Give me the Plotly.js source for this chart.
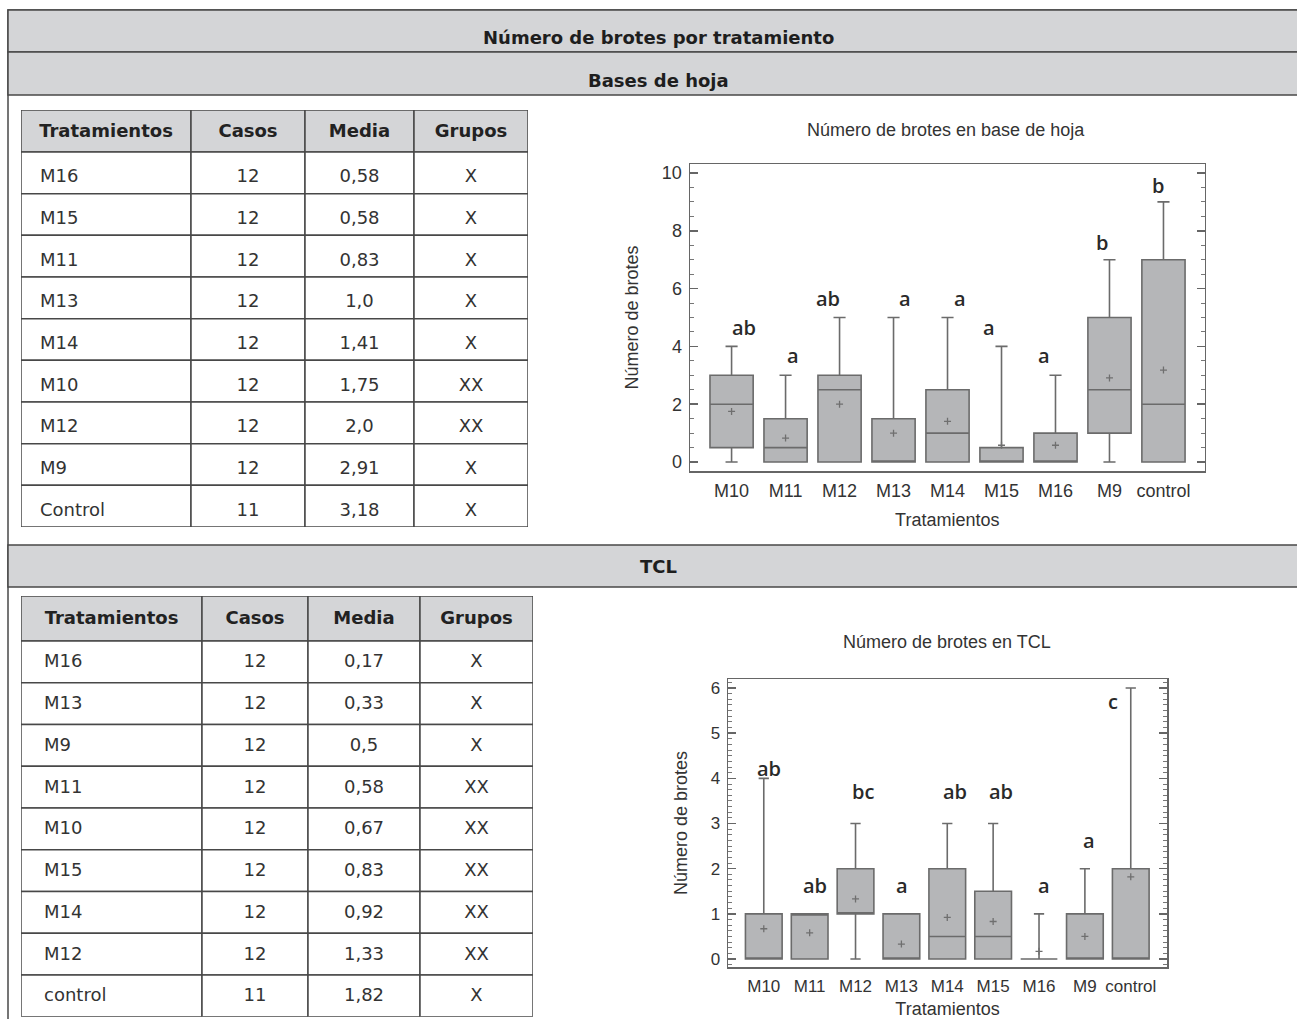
<!DOCTYPE html>
<html>
<head>
<meta charset="utf-8">
<script src="https://cdn.plot.ly/plotly-3.0.1.min.js"></script>
<style>
html,body{margin:0;padding:0;background:#fff;}
#chart{width:1297px;height:1019px;}
</style>
</head>
<body>
<div id="chart"></div>
<script>
// ---------------- DATA ----------------
const treatmentsHoja = ['M16','M15','M11','M13','M14','M10','M12','M9','Control'];
const casosHoja      = [12,12,12,12,12,12,12,12,11];
const mediaHoja      = ['0,58','0,58','0,83','1,0','1,41','1,75','2,0','2,91','3,18'];
const gruposHoja     = ['X','X','X','X','X','XX','XX','X','X'];

const treatmentsTCL = ['M16','M13','M9','M11','M10','M15','M14','M12','control'];
const casosTCL      = [12,12,12,12,12,12,12,12,11];
const mediaTCL      = ['0,17','0,33','0,5','0,58','0,67','0,83','0,92','1,33','1,82'];
const gruposTCL     = ['X','X','X','XX','XX','XX','XX','XX','X'];

const tableHeader = ['Tratamientos','Casos','Media','Grupos'];

const boxCategories = ['M10','M11','M12','M13','M14','M15','M16','M9','control'];

// Bases de hoja box statistics
const hojaLower  = [0,0,0,0,0,0,0,0,0];
const hojaQ1     = [0.5,0,0,0,0,0,0,1,0];
const hojaMedian = [2,0.5,2.5,0,1,0,0,2.5,2];
const hojaQ3     = [3,1.5,3,1.5,2.5,0.5,1,5,7];
const hojaUpper  = [4,3,5,5,5,4,3,7,9];
const hojaMean   = [1.75,0.83,2.0,1.0,1.41,0.58,0.58,2.91,3.18];
const hojaLetters = ['ab','a','ab','a','a','a','a','b','b'];
const hojaLetterY = [4.67,3.7,5.67,5.67,5.67,4.67,3.7,7.6,9.55];

// TCL box statistics
const tclLower  = [0,0,0,0,0,0,0,0,0];
const tclQ1     = [0,0,1,0,0,0,0,0,0];
const tclMedian = [0,1,1,0,0.5,0.5,0,0,0];
const tclQ3     = [1,1,2,1,2,1.5,0,1,2];
const tclUpper  = [4,1,3,1,3,3,1,2,6];
const tclMean   = [0.67,0.58,1.33,0.33,0.92,0.83,0.17,0.5,1.82];
const tclLetters = ['ab','ab','bc','a','ab','ab','a','a','c'];
const tclLetterY = [4.21,1.62,3.70,1.62,3.70,3.70,1.62,2.63,5.71];

// ---------------- LAYOUT / STYLE ----------------
const W = 1297, H = 1019;
const fx = px => px / W;
const fy = py => 1 - py / H;
const idx = boxCategories.map((_, i) => i);

const GRAY = '#d4d5d7';
const LINE = '#484848';
const BOXFILL = '#b5b6b8';
const BOXLINE = '#6b6b6b';
const TABLEFONT = '"DejaVu Sans", "Open Sans", sans-serif';
const CHARTFONT = '"Liberation Sans", Arial, sans-serif';
const LETTERFONT = '"Open Sans", Lato, sans-serif';

const hojaLetterShift = [12,7,-12,11,12,-13,-11,-7,-5];
const tclLetterShift  = [5,5,7,1,8,8,5,4,-18];

// table geometry (px)
const tableGeo = [
  {left:21, top:110, widths:[170,114,109,114], headH:42, rowH:41.67, padX:19, drop:5, ax:'3',
   cols:[treatmentsHoja, casosHoja, mediaHoja, gruposHoja]},
  {left:21, top:596, widths:[181,106,112,113], headH:45, rowH:41.75, padX:23, drop:1, ax:'4',
   cols:[treatmentsTCL, casosTCL, mediaTCL, gruposTCL]}
];

const data = [];
const shapes = [];
const layout = {
  width: W, height: H,
  margin: {l:0, r:0, t:0, b:0, pad:0},
  paper_bgcolor: '#ffffff', plot_bgcolor: '#ffffff',
  showlegend: false
};

// ---- tables drawn on hidden pixel-unit axes ----
tableGeo.forEach(g => {
  const nRows = g.cols[0].length;
  const totalW = g.widths.reduce((a, b) => a + b, 0);
  const totalH = g.headH + nRows * g.rowH;
  const edges = [0];
  g.widths.forEach(w => edges.push(edges[edges.length - 1] + w));
  const xa = 'x' + g.ax, ya = 'y' + g.ax;
  layout['xaxis' + g.ax] = {domain:[fx(g.left), fx(g.left + totalW)], range:[0, totalW],
    visible:false, fixedrange:true, anchor: ya};
  layout['yaxis' + g.ax] = {domain:[fy(g.top + totalH), fy(g.top)], range:[totalH, 0],
    visible:false, fixedrange:true, anchor: xa};

  // cells
  g.widths.forEach((w, c) => {
    shapes.push({type:'rect', xref:xa, yref:ya, x0:edges[c], x1:edges[c+1], y0:0, y1:g.headH,
      fillcolor: GRAY, line:{color: LINE, width:1.5}, layer:'below'});
    for (let r = 0; r < nRows; r++) {
      shapes.push({type:'rect', xref:xa, yref:ya, x0:edges[c], x1:edges[c+1],
        y0:g.headH + r * g.rowH, y1:g.headH + (r + 1) * g.rowH,
        fillcolor:'#ffffff', line:{color: LINE, width:1.5}, layer:'below'});
    }
  });

  // header text
  data.push({type:'scatter', mode:'text', xaxis:xa, yaxis:ya, cliponaxis:false,
    x: g.widths.map((w, c) => (edges[c] + edges[c+1]) / 2),
    y: g.widths.map(() => g.headH / 2 + 1),
    text: tableHeader.map(t => '<b>' + t + '</b>'),
    textposition:'middle center',
    textfont:{family: TABLEFONT, size:18, color:'#222'},
    hoverinfo:'skip', showlegend:false});

  // body text
  g.cols.forEach((col, c) => {
    const left = c === 0;
    data.push({type:'scatter', mode:'text', xaxis:xa, yaxis:ya, cliponaxis:false,
      x: col.map(() => left ? edges[c] + g.padX : (edges[c] + edges[c+1]) / 2),
      y: col.map((v, r) => g.headH + (r + 0.5) * g.rowH + g.drop),
      text: col.map(String),
      textposition: left ? 'middle right' : 'middle center',
      textfont:{family: TABLEFONT, size:18, color:'#333'},
      hoverinfo:'skip', showlegend:false});
  });
});

// ---- box plots ----
function makeBox(xa, ya, lower, q1, med, q3, upper) {
  return {
    type: 'box', xaxis: xa, yaxis: ya,
    x: idx, lowerfence: lower, q1: q1, median: med, q3: q3, upperfence: upper,
    boxmean: false,
    width: 0.8, whiskerwidth: 0.28, boxpoints: false,
    fillcolor: BOXFILL, line: {color: BOXLINE, width: 1.6},
    hoverinfo: 'skip', showlegend: false
  };
}
function makeMeans(xa, ya, mean) {
  return {
    type: 'scatter', mode: 'markers', xaxis: xa, yaxis: ya,
    x: idx, y: mean,
    marker: {symbol: 'cross-thin', size: 5, line: {color: '#6f6f6f', width: 1.3}},
    hoverinfo: 'skip', showlegend: false
  };
}
data.push(makeBox('x','y', hojaLower, hojaQ1, hojaMedian, hojaQ3, hojaUpper));
data.push(makeMeans('x','y', hojaMean));
data.push(makeBox('x2','y2', tclLower, tclQ1, tclMedian, tclQ3, tclUpper));
data.push(makeMeans('x2','y2', tclMean));

function xAxis(dom, range, fsize, anchor, titleStandoff) {
  return {
    domain: dom, range: range, anchor: anchor,
    tickmode: 'array', tickvals: idx, ticktext: boxCategories,
    ticks: '', showgrid: false, zeroline: false,
    showline: true, mirror: true, linecolor: '#666', linewidth: 1.5,
    tickfont: {family: CHARTFONT, size: fsize, color: '#333'},
    ticklabelstandoff: 3,
    title: {text: 'Tratamientos', font: {family: CHARTFONT, size: 18, color: '#333'}, standoff: titleStandoff}
  };
}
function yAxis(dom, range, dtick, minor, fsize, anchor) {
  return {
    domain: dom, range: range, anchor: anchor,
    tick0: 0, dtick: dtick, ticks: 'inside', ticklen: 8, tickwidth: 1.5, tickcolor: '#666',
    minor: {dtick: minor, tick0: 0, ticks: 'inside', ticklen: 4, tickwidth: 1, tickcolor: '#777', showgrid: false},
    showgrid: false, zeroline: false,
    showline: true, mirror: 'ticks', linecolor: '#666', linewidth: 1.5,
    tickfont: {family: CHARTFONT, size: fsize, color: '#333'},
    ticklabelstandoff: 3,
    title: {text: 'Número de brotes', font: {family: CHARTFONT, size: 18, color: '#333'}, standoff: 18}
  };
}
layout.xaxis  = xAxis([fx(690), fx(1204.5)], [-0.77, 8.76], 18, 'y', 13);
layout.yaxis  = yAxis([fy(471), fy(164)], [-0.31, 10.31], 2, 0.5, 18, 'x');
layout.xaxis2 = xAxis([fx(728), fx(1167)], [-0.78, 8.79], 17, 'y2', 9);
layout.yaxis2 = yAxis([fy(967), fy(679)], [-0.177, 6.2], 1, 0.125, 17, 'x2');

// ---- outer frame and title bars ----
shapes.unshift(
  {type:'rect', xref:'paper', yref:'paper', x0: fx(8), x1: 1.02, y0: -0.02, y1: fy(10),
   line:{color: LINE, width: 1.5}, fillcolor:'rgba(0,0,0,0)', layer:'below'},
  {type:'rect', xref:'paper', yref:'paper', x0: fx(8), x1: 1.02, y0: fy(52), y1: fy(10),
   line:{color: LINE, width: 1.5}, fillcolor: GRAY, layer:'below'},
  {type:'rect', xref:'paper', yref:'paper', x0: fx(8), x1: 1.02, y0: fy(95), y1: fy(52),
   line:{color: LINE, width: 1.5}, fillcolor: GRAY, layer:'below'},
  {type:'rect', xref:'paper', yref:'paper', x0: fx(8), x1: 1.02, y0: fy(587), y1: fy(545),
   line:{color: LINE, width: 1.5}, fillcolor: GRAY, layer:'below'}
);

const barFont = {family: TABLEFONT, size: 18, color: '#1e1e1e'};
const annotations = [
  {xref:'paper', yref:'paper', x: fx(658), y: fy(37), text:'<b>Número de brotes por tratamiento</b>',
   showarrow:false, font: barFont, xanchor:'center', yanchor:'middle'},
  {xref:'paper', yref:'paper', x: fx(658), y: fy(80), text:'<b>Bases de hoja</b>',
   showarrow:false, font: barFont, xanchor:'center', yanchor:'middle'},
  {xref:'paper', yref:'paper', x: fx(658), y: fy(566), text:'<b>TCL</b>',
   showarrow:false, font: barFont, xanchor:'center', yanchor:'middle'},
  {xref:'paper', yref:'paper', x: fx(946), y: fy(130), text:'Número de brotes en base de hoja',
   showarrow:false, font:{family: CHARTFONT, size: 18, color:'#333'}, xanchor:'center', yanchor:'middle'},
  {xref:'paper', yref:'paper', x: fx(947), y: fy(642), text:'Número de brotes en TCL',
   showarrow:false, font:{family: CHARTFONT, size: 18, color:'#333'}, xanchor:'center', yanchor:'middle'}
];
const letterFont = {family: LETTERFONT, size: 20, color: '#2a2a2a', weight: 600};
hojaLetters.forEach((t, i) => annotations.push({
  xref:'x', yref:'y', x: idx[i], y: hojaLetterY[i], text: t, showarrow:false,
  xshift: hojaLetterShift[i], font: letterFont, xanchor:'center', yanchor:'middle'}));
tclLetters.forEach((t, i) => annotations.push({
  xref:'x2', yref:'y2', x: idx[i], y: tclLetterY[i], text: t, showarrow:false,
  xshift: tclLetterShift[i], font: letterFont, xanchor:'center', yanchor:'middle'}));

layout.shapes = shapes;
layout.annotations = annotations;

Plotly.newPlot('chart', data, layout, {displayModeBar: false, staticPlot: true});
</script>
</body>
</html>
